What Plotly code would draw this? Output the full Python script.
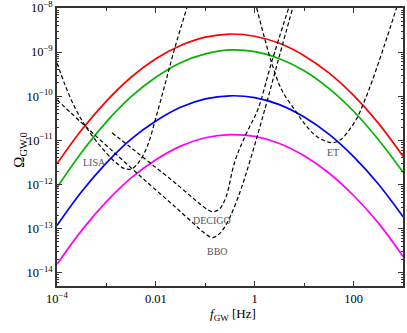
import plotly.graph_objects as go

# ---- data (log10 values) ----
log_f_grid = [-4.0, -3.5, -3.0, -2.5, -2.0, -1.5, -1.0, -0.5, 0.0, 0.5, 1.0, 1.5, 2.0, 2.5, 3.0]
log_omega_red = [-11.53, -10.76, -10.11, -9.57, -9.15, -8.85, -8.66, -8.59, -8.64, -8.80, -9.08, -9.47, -9.98, -10.61, -11.36]
log_omega_green = [-12.07, -11.27, -10.58, -10.01, -9.57, -9.24, -9.04, -8.95, -8.99, -9.15, -9.42, -9.82, -10.34, -10.98, -11.72]
log_omega_blue = [-12.93, -12.16, -11.51, -10.97, -10.56, -10.25, -10.06, -9.99, -10.03, -10.19, -10.47, -10.86, -11.37, -11.99, -12.73]
log_omega_magenta = [-13.81, -13.04, -12.39, -11.85, -11.44, -11.13, -10.94, -10.87, -10.91, -11.07, -11.35, -11.74, -12.25, -12.87, -13.63]

lisa_log_f = [-4.000, -3.838, -3.636, -3.414, -3.131, -2.828, -2.626, -2.485, -2.323, -2.162, -2.000, -1.818, -1.616, -1.374]
lisa_log_omega = [-9.244, -9.742, -10.262, -10.692, -11.122, -11.484, -11.643, -11.643, -11.462, -11.100, -10.489, -9.742, -8.905, -8.000]

bbo_log_f = [-4.000, -3.394, -2.727, -2.121, -1.616, -1.212, -1.010, -0.848, -0.707, -0.545, -0.303, -0.101, 0.202, 0.505, 0.768]
bbo_log_omega = [-10.081, -10.715, -11.394, -12.005, -12.502, -12.910, -13.109, -13.204, -13.109, -12.842, -12.186, -11.484, -10.308, -9.063, -8.000]

decigo_log_f = [-2.889, -2.525, -2.121, -1.616, -1.212, -1.010, -0.869, -0.727, -0.586, -0.404, -0.182, 0.061, 0.343, 0.687]
decigo_log_omega = [-10.828, -11.145, -11.507, -11.959, -12.344, -12.525, -12.615, -12.570, -12.299, -11.484, -10.873, -10.308, -9.222, -8.000]

et_log_f = [0.040, 0.182, 0.343, 0.545, 0.808, 1.010, 1.212, 1.414, 1.576, 1.737, 1.899, 2.061, 2.222, 2.384, 2.626, 2.869]
et_log_omega = [-8.000, -8.611, -9.244, -9.855, -10.308, -10.624, -10.873, -11.009, -11.054, -10.986, -10.783, -10.511, -10.104, -9.629, -8.837, -8.000]

detector_labels = ["LISA", "DECIGO", "BBO", "ET"]
label_log_f = [-3.232, -0.869, -0.747, 1.576]
label_log_omega = [-11.507, -12.819, -13.52, -11.28]

x_tick_vals = [1e-4, 1e-2, 1, 100]
x_tick_text = ["10<sup>\u22124</sup>", "0.01", "1", "100"]
y_exponents = [-8, -9, -10, -11, -12, -13, -14]

# ---- figure ----
def p10(v):
    return [10 ** a for a in v]

fig = go.Figure()

signal_colors = ["#ff0000", "#00b400", "#0000ff", "#ff00ff"]
for series, col in zip([log_omega_red, log_omega_green, log_omega_blue, log_omega_magenta], signal_colors):
    fig.add_trace(go.Scatter(x=p10(log_f_grid), y=p10(series), mode="lines",
                             line=dict(color=col, width=1.7, shape="spline"),
                             showlegend=False, hoverinfo="skip"))

for lf, lo in [(lisa_log_f, lisa_log_omega), (bbo_log_f, bbo_log_omega),
               (decigo_log_f, decigo_log_omega), (et_log_f, et_log_omega)]:
    fig.add_trace(go.Scatter(x=p10(lf), y=p10(lo), mode="lines",
                             line=dict(color="black", width=1.2, dash="4px,2.5px", shape="spline"),
                             showlegend=False, hoverinfo="skip"))

for name, lf, lo in zip(detector_labels, label_log_f, label_log_omega):
    fig.add_annotation(x=lf, y=lo, xref="x", yref="y", text=name, showarrow=False,
                       font=dict(family="Liberation Serif", size=10, color="#555555"))

fig.add_annotation(x=-0.107, y=0.49, xref="paper", yref="paper", xanchor="center", yanchor="middle",
                   text="\u03a9<sub>GW,0</sub>", textangle=-90, showarrow=False,
                   font=dict(family="Liberation Serif", size=15, color="black"))
fig.add_annotation(x=0.509, y=-0.104, xref="paper", yref="paper", xanchor="center", yanchor="middle",
                   text="<i>f</i><sub>GW</sub> [Hz]", showarrow=False,
                   font=dict(family="Liberation Serif", size=13, color="black"))

y_minor = [m * 10 ** e for e in range(-15, -8) for m in range(2, 10)]

axis_common = dict(showgrid=False, zeroline=False, showline=True, linecolor="#333333", linewidth=1.5,
                   mirror="allticks", ticks="inside", tickcolor="#333333", automargin=False,
                   ticklabeloverflow="allow",
                   tickfont=dict(family="Liberation Serif", size=12.5, color="black"))

fig.update_xaxes(type="log", range=[-4, 3], tickmode="array", tickvals=x_tick_vals, ticktext=x_tick_text,
                 ticklen=5, tickwidth=1,
                 minor=dict(tickmode="array", tickvals=[1e-3, 0.1, 10], ticks="inside", ticklen=3,
                            tickcolor="#333333", showgrid=False),
                 **axis_common)
fig.update_yaxes(type="log", range=[-14.301, -8], tickmode="array",
                 tickvals=[10 ** e for e in y_exponents],
                 ticktext=["10<sup>\u2212%d</sup>" % (-e) for e in y_exponents],
                 ticklen=5, tickwidth=1,
                 minor=dict(tickmode="array", tickvals=y_minor, ticks="inside", ticklen=2.5,
                            tickcolor="#333333", showgrid=False),
                 **axis_common)

fig.update_layout(template="none", width=407, height=333, margin=dict(l=57, r=4, t=8, b=47),
                  paper_bgcolor="white", plot_bgcolor="white")

fig.write_html("out.html", config={"displayModeBar": False},
               post_script="document.body.style.margin='0px';")
